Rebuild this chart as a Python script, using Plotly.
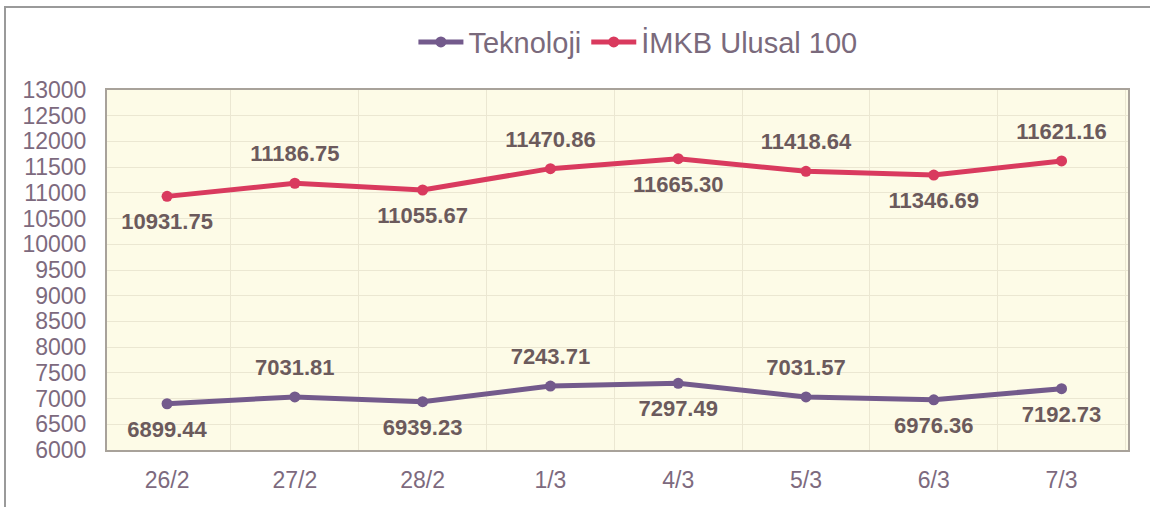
import plotly.graph_objects as go

dates = ["26/2", "27/2", "28/2", "1/3", "4/3", "5/3", "6/3", "7/3"]
teknoloji = [6899.44, 7031.81, 6939.23, 7243.71, 7297.49, 7031.57, 6976.36, 7192.73]
imkb = [10931.75, 11186.75, 11055.67, 11470.86, 11665.30, 11418.64, 11346.69, 11621.16]
tek_pos = ["bottom center", "top center", "bottom center", "top center",
           "bottom center", "top center", "bottom center", "bottom center"]
imkb_pos = ["bottom center", "top center", "bottom center", "top center",
            "bottom center", "top center", "bottom center", "top center"]
yticks = list(range(6000, 13001, 500))

xs = list(range(len(dates)))
label_font = dict(family="Liberation Sans, Arial", size=22, color="#6b5a5c")
TEK_COLOR = "#735a8c"
IMKB_COLOR = "#d93a5e"

fig = go.Figure()
for name, vals, color in [("Teknoloji", teknoloji, TEK_COLOR), ("İMKB Ulusal 100", imkb, IMKB_COLOR)]:
    fig.add_trace(go.Scatter(
        x=xs, y=vals, name=name, mode="lines+markers",
        line=dict(color=color, width=5), marker=dict(size=11, color=color),
    ))
for vals, pos in [(teknoloji, tek_pos), (imkb, imkb_pos)]:
    fig.add_trace(go.Scatter(
        x=xs, y=vals, mode="markers+text", showlegend=False, hoverinfo="skip",
        marker=dict(size=25, color="rgba(0,0,0,0)"),
        text=[f"<b>{v:.2f}</b>" for v in vals], textposition=pos,
        textfont=label_font, cliponaxis=False,
    ))

tick_font = dict(family="Liberation Sans, Arial", size=23, color="#7d6a7e")
fig.update_layout(
    width=1150, height=507,
    margin=dict(l=107, r=22, t=90, b=57),
    paper_bgcolor="#ffffff", plot_bgcolor="#fdfbe7",
    showlegend=True,
    legend=dict(orientation="h", x=0.52, xanchor="center", y=1.133, yanchor="middle",
                font=dict(family="Liberation Sans, Arial", size=29, color="#7a6a7c"),
                bgcolor="rgba(0,0,0,0)", itemwidth=45),
    xaxis=dict(range=[-0.47, 7.52], tickvals=xs, ticktext=dates, showgrid=False,
               tickfont=tick_font, ticks="", zeroline=False, ticklabelstandoff=8,
               showline=True, linecolor="#a8a29a", linewidth=2, mirror=True,
               minor=dict(tick0=0.5, dtick=1, showgrid=True, gridcolor="#ebe7d2", gridwidth=1)),
    yaxis=dict(range=[6000, 13000], tickvals=yticks, ticktext=[str(v) for v in yticks],
               tickfont=tick_font,
               showgrid=True, gridcolor="#ebe7d2", gridwidth=1, zeroline=False,
               showline=True, linecolor="#a8a29a", linewidth=2, mirror=True, ticks="",
               ticklabelstandoff=14),
    shapes=[dict(type="rect", xref="paper", yref="paper",
                 x0=-0.0999, x1=1.03, y0=-0.2, y1=1.2306,
                 line=dict(color="#9a9a9a", width=2), layer="below")],
)

fig.write_html("out.html", config={"displayModeBar": False},
               post_script="document.body.style.margin='0';")
